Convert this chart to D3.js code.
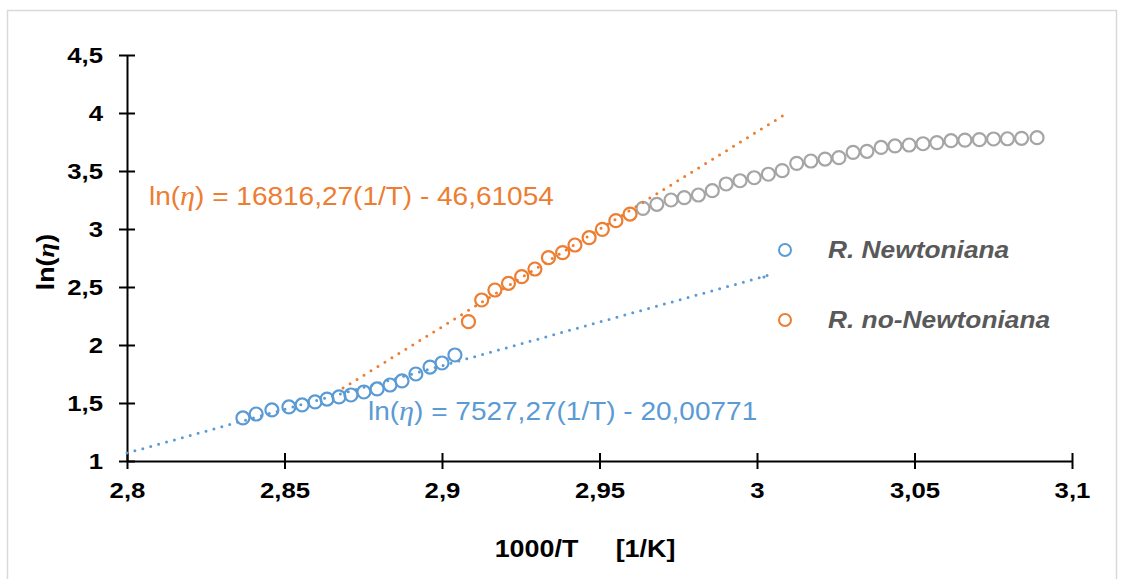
<!DOCTYPE html>
<html><head><meta charset="utf-8">
<script src="https://cdn.jsdelivr.net/npm/d3@7"></script>
<style>
body{margin:0;background:#fff}
svg{display:block}
text{font-family:"Liberation Sans",Arial,sans-serif}
</style>
</head><body>
<svg id="c" width="1124" height="579"></svg>
<script>
// ---------- data ----------
const xTicks = [2.8, 2.85, 2.9, 2.95, 3, 3.05, 3.1];
const yTicks = [1, 1.5, 2, 2.5, 3, 3.5, 4, 4.5];

const newtX = [2.8368, 2.8410, 2.8460, 2.8514, 2.8556, 2.8597, 2.8635, 2.8673, 2.8711, 2.8752, 2.8794, 2.8835, 2.8873, 2.8917, 2.8962, 2.9000, 2.9041];
const newtY = [1.371, 1.405, 1.440, 1.466, 1.483, 1.509, 1.534, 1.552, 1.569, 1.595, 1.621, 1.655, 1.690, 1.750, 1.810, 1.845, 1.914];

const nonNewtX = [2.9084, 2.9126, 2.9168, 2.9211, 2.9253, 2.9295, 2.9338, 2.9383, 2.9422, 2.9467, 2.9509, 2.9552, 2.9597];
const nonNewtY = [2.201, 2.388, 2.474, 2.532, 2.589, 2.655, 2.753, 2.796, 2.862, 2.925, 2.997, 3.072, 3.129];

const restX = [2.9638, 2.9682, 2.9727, 2.9769, 2.9814, 2.9858, 2.9902, 2.9946, 2.9991, 3.0036, 3.0080,
               3.0126, 3.0171, 3.0216, 3.0260, 3.0305, 3.0349, 3.0394, 3.0438, 3.0483, 3.0527,
               3.0571, 3.0616, 3.0660, 3.0706, 3.0751, 3.0795, 3.0840, 3.0889];
const restY = [3.178, 3.213, 3.250, 3.270, 3.293, 3.330, 3.388, 3.416, 3.442, 3.472, 3.503,
               3.566, 3.586, 3.603, 3.615, 3.661, 3.670, 3.703, 3.716, 3.724, 3.735,
               3.745, 3.761, 3.766, 3.770, 3.776, 3.778, 3.782, 3.787];

const newtFitCoef = [7.52727, -20.00771];      // slope, intercept
const newtFitRange = [2.8, 3.004];
const nonNewtFitCoef = [16.81627, -46.61054];
const nonNewtFitRange = [2.8686, 3.0098];

const seriesNames = ["R. Newtoniana", "R. no-Newtoniana"];
const eqNewt = ["ln(", "η", ") = 7527,27(1/T) - 20,00771"];
const eqNonNewt = ["ln(", "η", ") = 16816,27(1/T) - 46,61054"];
const xTitle = "1000/T     [1/K]";
const yTitle = ["ln(", "η", ")"];

// ---------- layout ----------
const BLUE = "#5B9BD5", ORANGE = "#ED7D31", GRAY = "#A5A5A5", TXT = "#595959";
const SX = 1.12; // horizontal text stretch
const svg = d3.select("#c");

svg.append("rect").attr("x", 7.5).attr("y", 10.5).attr("width", 1109).attr("height", 600)
  .attr("fill", "#fff").attr("stroke", "#D9D9D9").attr("stroke-width", 1.5);

const x = d3.scaleLinear().domain([2.8, 3.1]).range([127, 1072]);
const y = d3.scaleLinear().domain([1, 4.5]).range([461, 55]);
const fmt = d => String(d).replace(".", ",");

// y axis
const gy = svg.append("g").attr("transform", "translate(127,0)")
  .call(d3.axisLeft(y).tickValues(yTicks).tickFormat(fmt).tickSizeInner(8).tickSizeOuter(0).tickPadding(16));
gy.selectAll(".tick line").attr("x1", 8).attr("stroke", "#000").attr("stroke-width", 2);
gy.select(".domain").attr("stroke", "#000").attr("stroke-width", 2);
gy.selectAll(".tick text").attr("fill", "#000").attr("font-size", 23).attr("font-weight", "bold")
  .attr("font-family", "Liberation Sans, Arial, sans-serif")
  .attr("x", -24 / SX).attr("transform", `scale(${SX},1)`);

// x axis
const gx = svg.append("g").attr("transform", "translate(0,461)")
  .call(d3.axisBottom(x).tickValues(xTicks).tickFormat(fmt).tickSizeInner(8).tickSizeOuter(0).tickPadding(13));
gx.selectAll(".tick line").attr("y1", -8).attr("stroke", "#000").attr("stroke-width", 2);
gx.select(".domain").attr("stroke", "#000").attr("stroke-width", 2);
gx.selectAll(".tick text").attr("fill", "#000").attr("font-size", 23).attr("font-weight", "bold")
  .attr("font-family", "Liberation Sans, Arial, sans-serif")
  .attr("transform", `scale(${SX},1)`);

// titles
const yt = svg.append("text").attr("transform", `translate(54,262) rotate(-90) scale(${SX},1)`)
  .attr("text-anchor", "middle").attr("font-size", 24).attr("font-weight", "bold").attr("fill", "#000");
yt.append("tspan").text(yTitle[0]);
yt.append("tspan").text(yTitle[1]).attr("font-family", "Liberation Serif, serif").attr("font-style", "italic");
yt.append("tspan").text(yTitle[2]);

svg.append("text").attr("transform", `translate(585,557) scale(${SX},1)`).attr("text-anchor", "middle")
  .attr("font-size", 24).attr("font-weight", "bold").attr("fill", "#000")
  .attr("xml:space", "preserve").style("white-space", "pre").text(xTitle);

// scatter series
function pts(xs, ys, color) {
  svg.append("g").selectAll("circle").data(xs.map((d, i) => [d, ys[i]])).join("circle")
    .attr("cx", d => x(d[0])).attr("cy", d => y(d[1])).attr("r", 6.5)
    .attr("fill", "none").attr("stroke", color).attr("stroke-width", 2.2);
}
pts(restX, restY, GRAY);
pts(newtX, newtY, BLUE);
pts(nonNewtX, nonNewtY, ORANGE);

// trendlines
function fit(coef, range, color) {
  const line = d3.line().x(d => x(d)).y(d => y(coef[0] * d + coef[1]));
  svg.append("path").attr("d", line(range)).attr("fill", "none").attr("stroke", color)
    .attr("stroke-width", 3).attr("stroke-linecap", "round").attr("stroke-dasharray", "0 8.2");
}
fit(newtFitCoef, newtFitRange, BLUE);
fit(nonNewtFitCoef, nonNewtFitRange, ORANGE);

// equation labels
function eq(parts, px, py, color) {
  const t = svg.append("text").attr("transform", `translate(${px},${py}) scale(${SX},1)`)
    .attr("font-size", 25).attr("fill", color);
  t.append("tspan").text(parts[0]);
  t.append("tspan").text(parts[1]).attr("font-family", "Liberation Serif, serif").attr("font-style", "italic").attr("font-size", 27);
  t.append("tspan").text(parts[2]);
}
eq(eqNonNewt, 149, 205, ORANGE);
eq(eqNewt, 368, 420, BLUE);

// legend
const leg = [[seriesNames[0], BLUE, 250], [seriesNames[1], ORANGE, 320]];
leg.forEach(([name, col, ly]) => {
  svg.append("circle").attr("cx", 785).attr("cy", ly).attr("r", 6).attr("fill", "none")
    .attr("stroke", col).attr("stroke-width", 2);
  svg.append("text").attr("transform", `translate(828,${ly + 8}) scale(${SX},1)`)
    .attr("font-size", 23.5).attr("font-weight", "bold").attr("font-style", "italic").attr("fill", TXT).text(name);
});
svg.append("circle").attr("cx", 764).attr("cy", 277).attr("r", 1.6).attr("fill", BLUE);
</script>
</body></html>
